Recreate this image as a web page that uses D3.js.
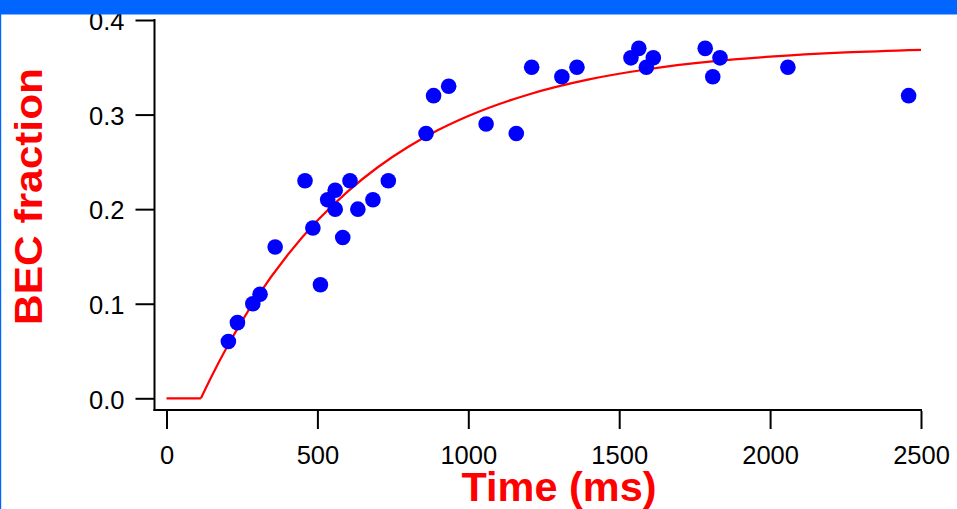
<!DOCTYPE html>
<html>
<head>
<meta charset="utf-8">
<script src="https://cdn.jsdelivr.net/npm/d3@7"></script>
<style>
  html, body { margin: 0; padding: 0; background: #fff; }
  svg { display: block; }
</style>
</head>
<body>
<div id="chart"></div>
<script>
// ---- data ----
const timeMs = [205, 235, 286, 310, 360, 459, 485, 510, 534, 559, 559, 584, 608, 634, 684, 735,
                860, 885, 935, 1059, 1159, 1210, 1310, 1360, 1539, 1565, 1590, 1613, 1785, 1810, 1834, 2059, 2459];
const becFraction = [0.06, 0.08, 0.10, 0.11, 0.16, 0.23, 0.18, 0.12, 0.21, 0.22, 0.20, 0.17, 0.23, 0.20, 0.21, 0.23,
                     0.28, 0.32, 0.33, 0.29, 0.28, 0.35, 0.34, 0.35, 0.36, 0.37, 0.35, 0.36, 0.37, 0.34, 0.36, 0.35, 0.32];
// fit curve (flat part, then rising part)
const fitFlatTime = [0, 114];
const fitFlatValue = [0, 0];
const fitTime = [114, 150, 200, 250, 300, 400, 500, 600, 700, 800, 900, 1000, 1200, 1400, 1600, 1800, 2000, 2250, 2500];
const fitValue = [0, 0.0236, 0.0539, 0.0816, 0.1069, 0.1510, 0.1879, 0.2186, 0.2443, 0.2657, 0.2836, 0.2985,
                  0.3213, 0.3372, 0.3482, 0.3559, 0.3612, 0.3657, 0.3685];
const xTicks = [0, 500, 1000, 1500, 2000, 2500];
const yTicks = [0.0, 0.1, 0.2, 0.3, 0.4];
const xTitle = "Time (ms)";
const yTitle = "BEC fraction";

// ---- drawing ----
const W = 957, H = 509;
const svg = d3.select("#chart").append("svg").attr("width", W).attr("height", H);
svg.append("rect").attr("width", W).attr("height", H).attr("fill", "#fff");

const x = d3.scaleLinear().domain([0, 2500]).range([166.5, 921]);
const y = d3.scaleLinear().domain([0, 0.4]).range([398.3, 20]);
const axisX = 154.5, axisY = 410;
const font = "'Liberation Sans', Arial, Helvetica, sans-serif";

// fit line
const flat = d3.line().x((d, i) => x(fitFlatTime[i])).y((d, i) => y(fitFlatValue[i]));
const rise = d3.line().x((d, i) => x(fitTime[i])).y((d, i) => y(fitValue[i])).curve(d3.curveMonotoneX);
const fitG = svg.append("g").attr("fill", "none").attr("stroke", "#ff0000").attr("stroke-width", 2.2)
  .attr("stroke-linejoin", "round");
fitG.append("path").datum(fitFlatValue).attr("d", flat);
fitG.append("path").datum(fitValue).attr("d", rise);

// points
svg.append("g").selectAll("circle").data(timeMs).join("circle")
  .attr("cx", (d) => x(d)).attr("cy", (d, i) => y(becFraction[i])).attr("r", 7.8)
  .attr("fill", "#0000ff");

// axes
const gy = svg.append("g").attr("transform", `translate(${axisX},0)`)
  .call(d3.axisLeft(y).tickValues(yTicks).tickFormat(d3.format(".1f")).tickSize(19).tickSizeOuter(0).tickPadding(11));
const gx = svg.append("g").attr("transform", `translate(0,${axisY + 1})`)
  .call(d3.axisBottom(x).tickValues(xTicks).tickFormat(d3.format("d")).tickSize(18).tickSizeOuter(0).tickPadding(17));
[gx, gy].forEach(g => {
  g.select(".domain").remove();
  g.selectAll(".tick line").attr("stroke", "#000").attr("stroke-width", 2);
  g.selectAll(".tick text").attr("fill", "#000").style("font-family", font).style("font-size", "25.5px");
});
gy.selectAll(".tick text").attr("dy", "0.38em");
svg.append("line").attr("x1", axisX).attr("x2", axisX).attr("y1", 19).attr("y2", axisY + 1)
  .attr("stroke", "#000").attr("stroke-width", 2);
svg.append("line").attr("x1", axisX - 1).attr("x2", 922).attr("y1", axisY).attr("y2", axisY)
  .attr("stroke", "#000").attr("stroke-width", 2);

// titles
svg.append("text").attr("x", 559).attr("y", 501).attr("text-anchor", "middle")
  .attr("fill", "#ff0000").style("font-family", font).style("font-weight", "bold").style("font-size", "40px")
  .attr("textLength", 195).attr("lengthAdjust", "spacingAndGlyphs").text(xTitle);
svg.append("text").attr("transform", "translate(42,196.5) rotate(-90)").attr("text-anchor", "middle")
  .attr("fill", "#ff0000").style("font-family", font).style("font-weight", "bold").style("font-size", "39px")
  .attr("textLength", 257).attr("lengthAdjust", "spacingAndGlyphs").text(yTitle);

// frame: top bar and left border
svg.append("rect").attr("x", 0).attr("y", 0).attr("width", W).attr("height", 14.5).attr("fill", "#0066ff");
svg.append("rect").attr("x", 0).attr("y", 0).attr("width", 1.2).attr("height", H).attr("fill", "#0066ff");
</script>
</body>
</html>
